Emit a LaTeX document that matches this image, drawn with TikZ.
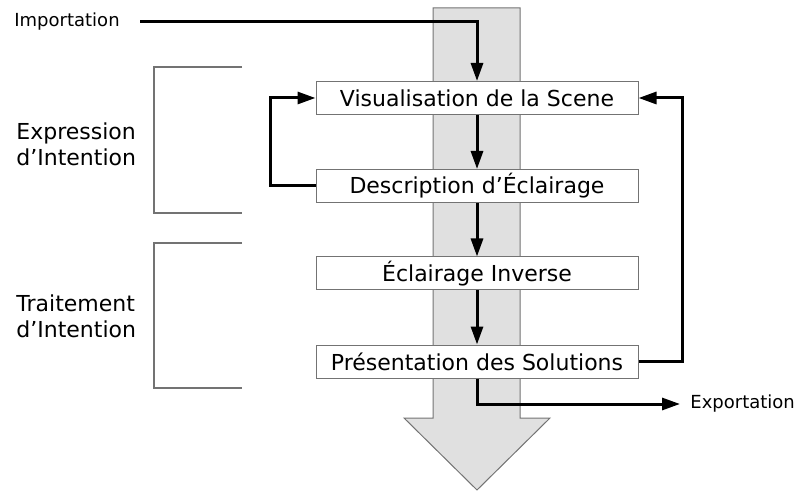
\documentclass[tikz,border=0pt]{standalone}
\usepackage{fontspec}
\setmainfont{DejaVu Sans}
\usetikzlibrary{arrows.meta}
\definecolor{arrowfill}{gray}{0.88}
\definecolor{framegray}{gray}{0.45}
\begin{document}
\begin{tikzpicture}[x=0.5pt,y=-0.5pt,
  stepbox/.style={draw=framegray,line width=0.5pt,fill=white,minimum width=161pt,minimum height=16.5pt,inner sep=0pt,font=\fontsize{11}{13}\selectfont},
  flow/.style={line width=1.5pt,-{Triangle[length=9pt,width=6pt]}},
  bracket/.style={draw=framegray,line width=0.6pt},
  sidelabel/.style={anchor=west,align=left,inner sep=0pt,font=\fontsize{11}{13}\selectfont},
  iolabel/.style={inner sep=0pt,font=\fontsize{9}{11}\selectfont}]
\useasboundingbox (0,0) rectangle (796,491);
% big downward arrow
\filldraw[fill=arrowfill,draw=framegray,line width=0.5pt]
  (433,8) -- (520,8) -- (520,418) -- (550,418) -- (477,490) -- (404,418) -- (433,418) -- cycle;
% brackets
\draw[bracket] (242,67) -- (154,67) -- (154,213) -- (242,213);
\draw[bracket] (242,243) -- (154,243) -- (154,388) -- (242,388);
% labels
\node[sidelabel] (expr) at (16,144) {Expression\\d’Intention};
\node[sidelabel] (trait) at (16,316) {Traitement\\d’Intention};
% boxes
\node[stepbox] (b1) at (477,98) {Visualisation de la Scene};
\node[stepbox] (b2) at (477,186) {Description d’Éclairage};
\node[stepbox] (b3) at (477,273.5) {Éclairage Inverse};
\node[stepbox] (b4) at (477,361.5) {Présentation des Solutions};
% io labels
\node[iolabel,anchor=west] (imp) at (14,22) {Importation};
\node[iolabel,anchor=west] (exp) at (690,404) {Exportation};
% connectors
\draw[flow] ([xshift=10pt]imp.east) -| (b1.north);
\draw[flow] (b1.south) -- (b2.north);
\draw[flow] (b2.south) -- (b3.north);
\draw[flow] (b3.south) -- (b4.north);
\draw[flow] (b2.west) -- ++(-45,0) |- (b1.west);
\draw[flow] (b4.east) -- ++(44,0) |- (b1.east);
\draw[flow] (b4.south) |- ([xshift=-5pt]exp.west);
\end{tikzpicture}
\end{document}
